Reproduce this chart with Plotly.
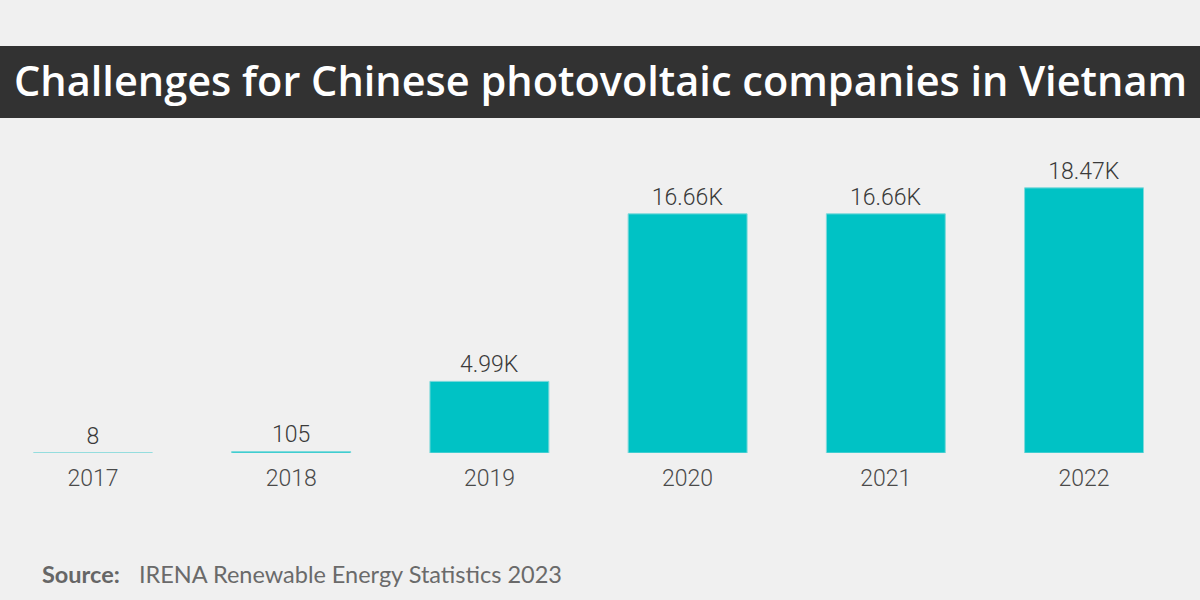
import plotly.graph_objects as go

years = ["2017", "2018", "2019", "2020", "2021", "2022"]
capacity = [8, 105, 4990, 16660, 16660, 18470]
value_labels = ["8", "105", "4.99K", "16.66K", "16.66K", "18.47K"]

title_text = "Challenges for Chinese photovoltaic companies in Vietnam"
source_label = "Source:"
source_text = "IRENA Renewable Energy Statistics 2023"

BAR = "#00c2c5"
BG = "#f0f0f0"

BASE = 453
PH = 323


def py(px):
    return (BASE - px) / PH


fig = go.Figure()
fig.add_trace(go.Bar(
    x=years, y=capacity, text=value_labels, textposition="outside",
    textfont=dict(family="Roboto", size=23, color="#3a3a3a", weight=300),
    marker=dict(color=BAR, line=dict(color="#7fd9db", width=1)),
    width=0.6, cliponaxis=False, hoverinfo="skip",
))

fig.update_layout(
    width=1200, height=600,
    paper_bgcolor=BG, plot_bgcolor=BG,
    margin=dict(l=0, r=0, t=130, b=147),
    showlegend=False,
    xaxis=dict(type="category", range=[-0.469, 5.585], showgrid=False, zeroline=False,
               showline=False, ticks="", ticklabelstandoff=9,
               tickfont=dict(family="Roboto", size=23, color="#4a4a4a", weight=300)),
    yaxis=dict(range=[0, 22500], visible=False, showgrid=False, zeroline=False),
    shapes=[dict(type="rect", xref="paper", yref="paper", x0=-0.01, x1=1.01,
                 y0=py(118), y1=py(46),
                 fillcolor="#323232", line=dict(width=0), layer="above")],
    annotations=[
        dict(text=title_text, xref="paper", yref="paper", x=0.5,
             y=py(80), xanchor="center", yanchor="middle",
             showarrow=False, font=dict(family="Open Sans", size=41.5, color="white", weight=600)),
        dict(text=source_label, xref="paper", yref="paper", x=40 / 1200,
             y=py(574), xanchor="left", yanchor="middle", showarrow=False,
             font=dict(family="Lato", size=23.5, color="#666666", weight=700)),
        dict(text=source_text, xref="paper", yref="paper", x=137 / 1200,
             y=py(574), xanchor="left", yanchor="middle", showarrow=False,
             font=dict(family="Lato", size=23.5, color="#6a6a6a")),
    ],
)

fig.write_html("out.html", config={"displayModeBar": False},
               post_script="document.body.style.margin='0';document.body.style.background='#f0f0f0';")
